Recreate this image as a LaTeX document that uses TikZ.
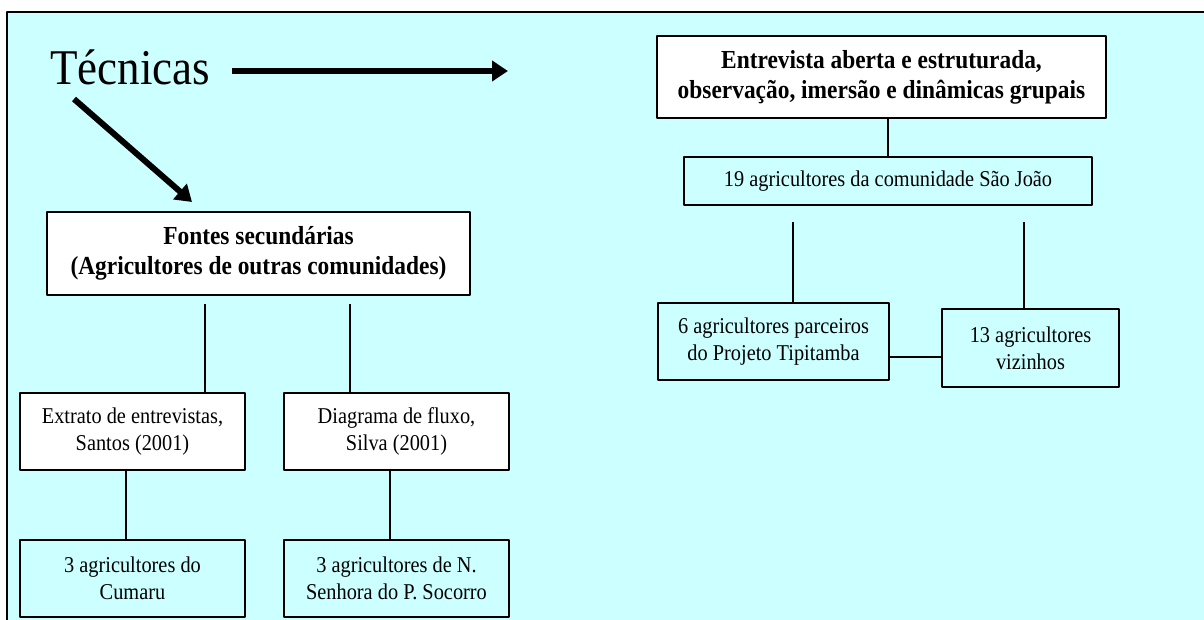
\documentclass[tikz,border=0pt]{standalone}
\usepackage{fontspec}
\setmainfont[FakeStretch=0.9]{Liberation Serif}
\usetikzlibrary{arrows.meta}
\definecolor{bgcyan}{RGB}{204,255,255}
\begin{document}
\begin{tikzpicture}[line join = round, line cap = round, x = 0.5pt, y = -0.5pt]
	\pgfmathsetmacro\sw{112.5}
	\pgfmathsetmacro\sh{38.5}
	\tikzset{box/.style={draw, line width=1pt, inner sep=0pt, align=center, font=\fontsize{11.3}{13.5}\selectfont},
		whitebox/.style={box, fill=white},
		headbox/.style={whitebox, font=\fontsize{13}{15}\selectfont\bfseries},
		link/.style={line width=0.65pt, line cap=butt},
		bigarrow/.style={line width=3pt, line cap=butt, -{Triangle[length=8pt, width=10pt]}}}
	\useasboundingbox (0,0) rectangle (1204,620);
	\fill[bgcyan] (7,12) rectangle (1204,620);
	\draw[line width=0.75pt] (7,620) -- (7,12) -- (1204,12);
	\node[anchor=base west, inner sep=0pt, font=\fontsize{25}{30}\selectfont] (tec) at (50,85) {Técnicas};
	\node[headbox, minimum width=224.5pt, minimum height=41pt] (entrev) at (881.5,77) {Entrevista aberta e estruturada,\\observação, imersão e dinâmicas grupais};
	\node[headbox, minimum width=211.5pt, minimum height=41.5pt] (fontes) at (258.5,253.5) {Fontes secundárias\\(Agricultores de outras comunidades)};
	\node[box, minimum width=204pt, minimum height=24pt] (sjoao) at (888,181) {19 agricultores da comunidade São João};
	\node[box, minimum width=115.5pt, minimum height=38.5pt] (parc) at (773.5,341.5) {6 agricultores parceiros\\do Projeto Tipitamba};
	\node[box, minimum width=88.5pt, minimum height=39pt] (viz) at (1030.5,348) {13 agricultores\\vizinhos};
	\node[whitebox, minimum width=\sw pt, minimum height=\sh pt] (extrato) at (132.5,431.5) {Extrato de entrevistas,\\Santos (2001)};
	\node[whitebox, minimum width=\sw pt, minimum height=\sh pt] (diagr) at (396.5,431.5) {Diagrama de fluxo,\\Silva (2001)};
	\node[box, minimum width=\sw pt, minimum height=\sh pt] (cumaru) at (132.5,578.5) {3 agricultores do\\Cumaru};
	\node[box, minimum width=\sw pt, minimum height=\sh pt] (socorro) at (396.5,578.5) {3 agricultores de N.\\Senhora do P. Socorro};
	% arrows from the title
	\coordinate (hstart) at (232,71);
	\coordinate (hend) at (508,71);
	\coordinate (dstart) at (74,99);
	\coordinate (dend) at (192,202);
	\draw[bigarrow] (hstart) -- (hend);
	\draw[bigarrow] (dstart) -- (dend);
	% connectors
	\coordinate (fl) at (205,304);
	\coordinate (fr) at (350,304);
	\coordinate (sl) at (793,222);
	\coordinate (sr) at (1024,222);
	\draw[link] (sjoao.north) -- (sjoao.north |- entrev.south);
	\draw[link] (fl) -- (fl |- extrato.north);
	\draw[link] (fr) -- (fr |- diagr.north);
	\draw[link] ([xshift=-3.25pt]extrato.south) -- ([xshift=-3.25pt]cumaru.north);
	\draw[link] ([xshift=-3.25pt]diagr.south) -- ([xshift=-3.25pt]socorro.north);
	\draw[link] (sl) -- (sl |- parc.north);
	\draw[link] (sr) -- (sr |- viz.north);
	\draw[link] ([yshift=-7.75pt]parc.east) -- ([yshift=-7.75pt]parc.east -| viz.west);
\end{tikzpicture}
\end{document}
